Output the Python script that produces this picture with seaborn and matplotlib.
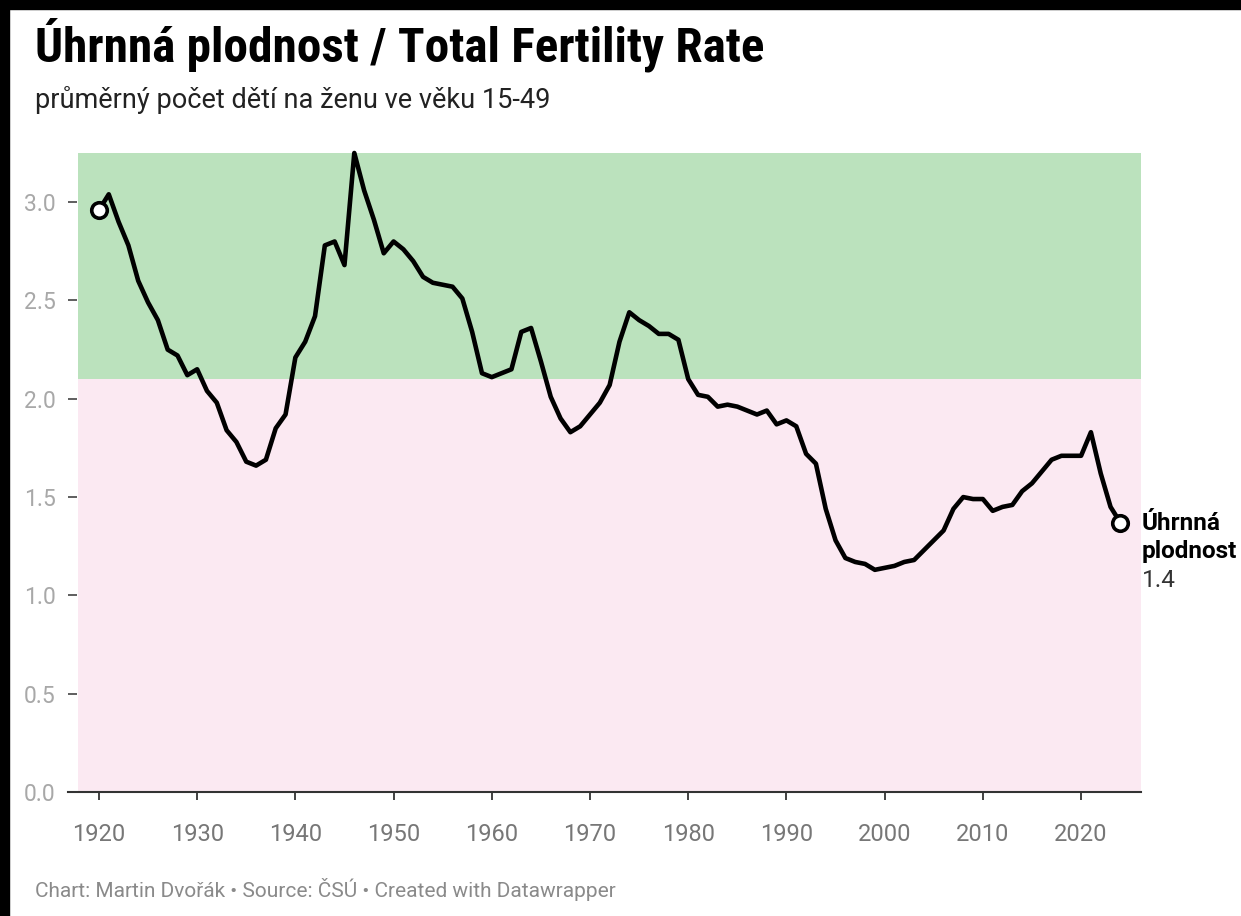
import matplotlib
matplotlib.use("Agg")
import matplotlib.pyplot as plt
from matplotlib.patches import Rectangle
import seaborn as sns
import pandas as pd

# Úhrnná plodnost v ČR, 1920-2024
years = list(range(1920, 2025))
tfr = [
    2.96, 3.04, 2.90, 2.78, 2.60, 2.49, 2.40, 2.25, 2.22, 2.12,  # 1920-1929
    2.15, 2.04, 1.98, 1.84, 1.78, 1.68, 1.66, 1.69, 1.85, 1.92,  # 1930-1939
    2.21, 2.29, 2.42, 2.78, 2.80, 2.68, 3.25, 3.06, 2.91, 2.74,  # 1940-1949
    2.80, 2.76, 2.70, 2.62, 2.59, 2.58, 2.57, 2.51, 2.34, 2.13,  # 1950-1959
    2.11, 2.13, 2.15, 2.34, 2.36, 2.19, 2.01, 1.90, 1.83, 1.86,  # 1960-1969
    1.92, 1.98, 2.07, 2.29, 2.44, 2.40, 2.37, 2.33, 2.33, 2.30,  # 1970-1979
    2.10, 2.02, 2.01, 1.96, 1.97, 1.96, 1.94, 1.92, 1.94, 1.87,  # 1980-1989
    1.89, 1.86, 1.72, 1.67, 1.44, 1.28, 1.19, 1.17, 1.16, 1.13,  # 1990-1999
    1.14, 1.15, 1.17, 1.18, 1.23, 1.28, 1.33, 1.44, 1.50, 1.49,  # 2000-2009
    1.49, 1.43, 1.45, 1.46, 1.53, 1.57, 1.63, 1.69, 1.71, 1.71,  # 2010-2019
    1.71, 1.83, 1.62, 1.45, 1.37,                                # 2020-2024
]
x_ticks = [1920, 1930, 1940, 1950, 1960, 1970, 1980, 1990, 2000, 2010, 2020]
y_ticks = [0.0, 0.5, 1.0, 1.5, 2.0, 2.5, 3.0]
replacement_level = 2.1

df = pd.DataFrame({"rok": years, "plodnost": tfr})
ends = df.iloc[[0, -1]]

sns.set_theme(style="white")
plt.rcParams["font.family"] = ["Roboto", "DejaVu Sans"]
CONDENSED = ["Roboto Condensed", "Roboto", "DejaVu Sans"]

W, H = 1241, 916
fig = plt.figure(figsize=(W / 100, H / 100), dpi=100)
fig.patch.set_facecolor("white")

# oblast grafu (v pixelech podle předlohy)
left, right, top, bottom = 68, 1141, 153, 792
ax = fig.add_axes([left / W, 1 - bottom / H, (right - left) / W, (bottom - top) / H])

x0, x1 = 1916.85, 2026.1
y_top = 3.25
ax.set_xlim(x0, x1)
ax.set_ylim(0, y_top)

shade_from = (78 - left) / (right - left)
ax.axhspan(replacement_level, y_top, xmin=shade_from, xmax=1, color="#bbe2bd", lw=0, zorder=0)
ax.axhspan(0, replacement_level, xmin=shade_from, xmax=1, color="#fbe9f2", lw=0, zorder=0)

sns.lineplot(data=df, x="rok", y="plodnost", ax=ax, color="black", lw=3.3,
             zorder=3, clip_on=False)
sns.scatterplot(data=ends, x="rok", y="plodnost", ax=ax, s=125, color="white",
                edgecolor="black", linewidth=2.6, zorder=4, clip_on=False)

ax.set_xticks(x_ticks)
ax.set_yticks(y_ticks)
ax.set_yticklabels([f"{v:.1f}" for v in y_ticks])
ax.set_xlabel("")
ax.set_ylabel("")
ax.tick_params(axis="x", direction="out", length=6, width=1.3, color="#333333",
               labelsize=17, labelcolor="#777777", pad=16, bottom=True)
ax.tick_params(axis="y", direction="in", length=6.5, width=1.1, color="#333333",
               labelsize=16.5, labelcolor="#a8a8a8", pad=9, left=True)
for side in ["top", "right", "left"]:
    ax.spines[side].set_visible(False)
ax.spines["bottom"].set_color("#333333")
ax.spines["bottom"].set_linewidth(1.5)
ax.set_facecolor("white")

# popisek posledního bodu
lx = 1142 / W
fig.text(lx, 1 - 530 / H, "Úhrnná", fontsize=17.5, fontweight="bold", color="black", va="baseline")
fig.text(lx, 1 - 558 / H, "plodnost", fontsize=17.5, fontweight="bold", color="black", va="baseline")
fig.text(lx, 1 - 587 / H, "1.4", fontsize=17.5, color="#333333", va="baseline")

# titulky
fig.text(35 / W, 1 - 62 / H, "Úhrnná plodnost / Total Fertility Rate", fontsize=35.5,
         fontweight="bold", color="black", va="baseline", family=CONDENSED)
fig.text(35 / W, 1 - 108 / H, "průměrný počet dětí na ženu ve věku 15-49", fontsize=19.5,
         color="#222222", va="baseline")
fig.text(35 / W, 1 - 897 / H, "Chart: Martin Dvořák • Source: ČSÚ • Created with Datawrapper",
         fontsize=15, color="#8a8a8a", va="baseline")

# černý okraj nahoře a vlevo
fig.patches.append(Rectangle((0, 1 - 9 / H), 1, 9 / H, transform=fig.transFigure,
                             color="black", zorder=10))
fig.patches.append(Rectangle((0, 0), 9 / W, 1, transform=fig.transFigure,
                             color="black", zorder=10))

fig.savefig("out.png", dpi=100, facecolor="white")
